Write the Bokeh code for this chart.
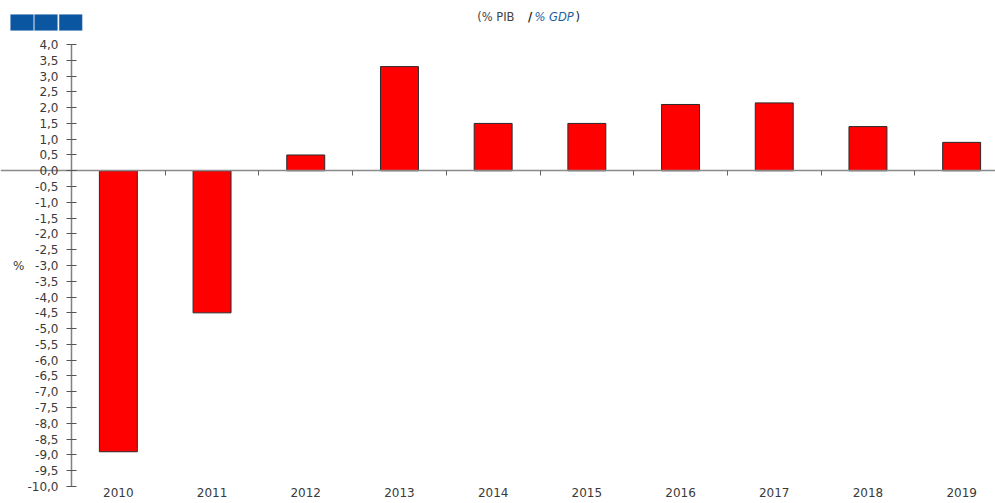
from bokeh.plotting import figure
from bokeh.models import (LinearAxis, FixedTicker, Range1d, Label, BoxAnnotation,
                          ColumnDataSource)
from bokeh.embed import file_html
from bokeh.resources import INLINE

# ---- data ----
years = ["2010", "2011", "2012", "2013", "2014", "2015", "2016", "2017", "2018", "2019"]
values = [-8.9, -4.5, 0.5, 3.3, 1.5, 1.5, 2.1, 2.15, 1.4, 0.9]
y_ticks = [4.0 - 0.5 * i for i in range(29)]
y_tick_labels = {t: ("%.1f" % t).replace(".", ",") for t in y_ticks}
y_min, y_max = -10.0, 4.0

FONT = "DejaVu Sans"
TXT = "#3a3a3a"

W, H = 995, 503
# frame fills the whole canvas; axes are placed inside with fixed_location
px_per_cat = 93.7
first_center = 117.85      # px of first category centre
px_per_unit = 31.57
top_px = 44                # px of y=4
x0 = -first_center / px_per_cat
x1 = (W - first_center) / px_per_cat
y1 = y_max + top_px / px_per_unit
y0 = y1 - H / px_per_unit

p = figure(width=W, height=H, output_backend="svg", toolbar_location=None,
           x_range=Range1d(x0, x1), y_range=Range1d(y0, y1),
           x_axis_location=None, y_axis_location=None,
           min_border=0, min_border_left=0, min_border_right=0,
           min_border_top=0, min_border_bottom=0)
p.outline_line_color = None
p.xgrid.visible = False
p.ygrid.visible = False
p.background_fill_color = "white"
p.border_fill_color = "white"

idx = list(range(len(years)))
src = ColumnDataSource(dict(x=idx, top=values, year=years))
p.vbar(x="x", top="top", bottom=0, width=0.405, source=src,
       fill_color="#FF0000", line_color="#2a2a2a", line_width=1)

# y axis
yax = LinearAxis(fixed_location=-0.5, bounds=(y_min, y_max),
                 ticker=FixedTicker(ticks=y_ticks),
                 major_label_overrides=y_tick_labels,
                 axis_label="%", axis_label_orientation="horizontal",
                 axis_label_text_font=FONT, axis_label_text_font_style="normal",
                 axis_label_text_font_size="12px", axis_label_text_color=TXT,
                 axis_label_standoff=0,
                 major_label_text_font=FONT, major_label_text_font_size="12px",
                 major_label_text_color=TXT, major_label_standoff=8,
                 axis_line_color="#808080", axis_line_width=1.5,
                 major_tick_line_color="#555555", major_tick_in=5, major_tick_out=5,
                 minor_tick_line_color=None)
p.add_layout(yax, "left")

# zero line axis with ticks between categories
zax = LinearAxis(fixed_location=0,
                 ticker=FixedTicker(ticks=[i + 0.5 for i in idx[:-1]]),
                 major_label_text_color=None, major_label_text_font_size="1px",
                 axis_line_color="#8a8a8a", axis_line_width=1.5,
                 major_tick_line_color="#666666", major_tick_in=0, major_tick_out=5,
                 minor_tick_line_color=None)
p.add_layout(zax, "below")

# year labels axis at the bottom
xax = LinearAxis(fixed_location=y_min,
                 ticker=FixedTicker(ticks=idx),
                 major_label_overrides={i: y for i, y in zip(idx, years)},
                 major_label_text_font=FONT, major_label_text_font_size="12px",
                 major_label_text_color=TXT, major_label_standoff=2,
                 axis_line_color=None, major_tick_line_color=None,
                 major_tick_in=0, major_tick_out=0, minor_tick_line_color=None)
p.add_layout(xax, "below")

# title pieces
ty = H - 16
TFS = "11.5px"
p.add_layout(Label(x=514, y=ty, x_units="screen", y_units="screen", text="(% PIB",
                   text_align="right", text_baseline="middle", text_font=FONT,
                   text_font_size=TFS, text_color="#444444"))
p.add_layout(Label(x=529.5, y=ty, x_units="screen", y_units="screen", text="/",
                   text_align="center", text_baseline="middle", text_font=FONT,
                   text_font_size=TFS, text_font_style="bold", text_color="#222222"))
p.add_layout(Label(x=534, y=ty, x_units="screen", y_units="screen", text="% GDP",
                   text_align="left", text_baseline="middle", text_font=FONT,
                   text_font_size=TFS, text_font_style="italic", text_color="#1a5fa0"))
p.add_layout(Label(x=575, y=ty, x_units="screen", y_units="screen", text=")",
                   text_align="left", text_baseline="middle", text_font=FONT,
                   text_font_size=TFS, text_color="#222222"))

# logo boxes
for lx in (10, 34, 58.7):
    p.add_layout(BoxAnnotation(left=lx, right=lx + 23, top=H - 14, bottom=H - 30,
                               left_units="screen", right_units="screen",
                               top_units="screen", bottom_units="screen",
                               fill_color="#0a56a0", fill_alpha=1,
                               line_color="#5f8fc0", line_width=1))

open("out.html", "w").write(file_html(p, INLINE))
